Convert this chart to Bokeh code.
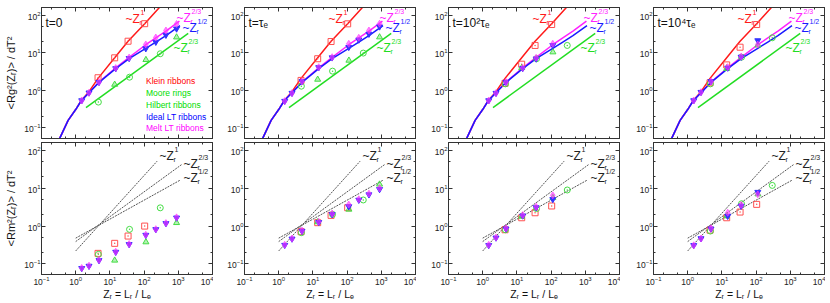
from bokeh.plotting import figure
from bokeh.models import Range1d, LogAxis, FixedTicker, Label, Legend, LegendItem
from bokeh.layouts import row, column
from bokeh.embed import file_html
from bokeh.resources import INLINE

FONT = "Liberation Sans"

# ---------------- data ----------------
TIME_LABELS = ["t=0", "t=τₑ", "t=10²τₑ", "t=10⁴τₑ"]
SERIES_NAMES = ["Klein ribbons", "Moore rings", "Hilbert ribbons", "Ideal LT ribbons", "Melt LT ribbons"]
X_TITLE = "Zᵣ = Lᵣ / Lₑ"
Y_TITLE_TOP = "<Rg²(Zᵣ)> / dT²"
Y_TITLE_BOT = "<Rm²(Zᵣ)> / dT²"

Z_KLEIN = [4.5, 13.8, 34, 104]
Z_MOORE = [4.6, 37.5, 297]
Z_HILBERT = [13.8, 113, 890]
Z_LT = [1.5, 2.45, 4.8, 14.8, 36.5, 112, 220, 435, 890]

# gyration radius (top row), one list per time
RG_KLEIN = [[2.18, 7.4, 20.5, 60], [1.85, 7.0, 20.1, 59.5], [1.55, 5.0, 15.8, 57], [1.6, 4.8, 14.2, 57]]
RG_MOORE = [[0.49, 2.26, 9.5], [1.3, 3.27, 9.9], [1.5, 7.0, 15.8], [1.5, 7.7, 25.3]]
RG_HILBERT = [[1.44, 6.56, 26.2], [1.96, 6.3, 26.3], [4.0, 10.5], [3.8, 16.0]]
RG_IDEAL = [[0.54, 0.87, 1.66, 3.85, 7.2, 13.1, 19.5, 30, 44],
            [0.52, 0.85, 1.74, 4.1, 7.5, 14.2, 22.4, 32, 50],
            [0.54, 0.85, 1.67, 3.9, 7.0, 16.0],
            [0.54, 0.90, 1.74, 4.0, 7.8, 21.4]]
RG_MELT = [[0.54, 0.87, 1.68, 3.95, 7.5, 16.8, 25.7, 39.5, 59],
           [0.52, 0.85, 1.74, 4.18, 7.7, 17.5, 25.3, 39.5, 60],
           [0.54, 0.85, 1.67, 4.0, 7.4, 17.5],
           [0.54, 0.90, 1.74, 4.18, 8.0, 16.7]]

# bottom row, one list per time
RM_KLEIN = [[0.19, 0.35, 0.545, 1.0], [0.71, 1.23, 1.92, 3.06], [0.80, 1.66, 2.25, 3.4], [0.78, 1.66, 2.35, 3.75]]
RM_MOORE = [[0.179, 0.82, 3.04], [0.67, 2.04, 4.9], [0.80, 2.9, 9.0], [0.74, 3.9, 11.9]]
RM_HILBERT = [[0.124, 0.378, 1.22], [1.28, 2.76, 12.7], [1.8, 5.6], [1.84, 7.0]]
RM_IDEAL = [[0.0766, 0.088, 0.124, 0.206, 0.329, 0.579, 0.818, 1.18, 1.66],
            [0.314, 0.46, 0.74, 1.26, 2.05, 3.3, 4.9, 6.8, 9.4],
            [0.31, 0.49, 0.85, 1.88, 3.1, 5.1],
            [0.31, 0.47, 0.85, 1.84, 3.4, 7.9]]
RM_MELT = [[0.078, 0.09, 0.127, 0.21, 0.335, 0.59, 0.83, 1.2, 1.7],
           [0.32, 0.47, 0.76, 1.3, 2.15, 3.7, 5.1, 7.2, 10.0],
           [0.32, 0.50, 0.87, 1.95, 3.25, 6.5],
           [0.31, 0.47, 0.87, 2.25, 3.6, 6.9]]

# model curves of the top row
CURVE_Z_KLEIN = [0.34, 0.6, 1.0, 1.47, 2.45, 4.5, 13.8, 34, 104, 280]
CURVE_RG_KLEIN = [0.053, 0.159, 0.31, 0.55, 0.93, 2.1, 7.4, 20.5, 60, 162]
CURVE_Z_MELT = [0.34, 0.6, 1.0, 1.47, 2.45, 4.8, 14.8, 36.5, 112, 220, 435, 1080]
CURVE_RG_MELT = [0.053, 0.159, 0.31, 0.54, 0.87, 1.68, 4.0, 7.6, 16.5, 25, 38, 70]
CURVE_Z_IDEAL = [0.34, 0.6, 1.0, 1.47, 2.45, 4.8, 14.8, 36.5, 112, 220, 435, 1120]
CURVE_RG_IDEAL = [0.053, 0.159, 0.31, 0.54, 0.87, 1.64, 3.8, 7.0, 13.2, 19.5, 29, 53]
REF_Z_MOORE = [2.0, 1950]
REF_RG_MOORE = [0.35, 33]

# dashed guide lines of the bottom row
GUIDE_Z_1 = [1.0, 240]
GUIDE_R_1 = [0.22, 52]
GUIDE_Z_23 = [1.0, 1240]
GUIDE_R_23 = [0.39, 42]
GUIDE_Z_12 = [1.0, 1150]
GUIDE_R_12 = [0.48, 16.5]

X_TICKS = [0.1, 1, 10, 100, 1000, 10000]
Y_TICKS = [0.1, 1, 10, 100]
X_MINOR = [0.2, 0.5, 2, 5, 20, 50, 200, 500, 2000, 5000]
Y_MINOR = [0.2, 0.5, 2, 5, 20, 50]

# ---------------- styling / layout ----------------
RED, GREEN, BLUE, MAGENTA = "#ff1a1a", "#22dd22", "#1a1aff", "#ff22ff"
FRAME_W = 171
COL_LEFT = [41, 31, 32, 33]
TOP_H, BOT_H = 131, 132
AX_COL = "#333333"


def style_axis(ax, ticks, minor, labels):
    ax.ticker = FixedTicker(ticks=ticks, minor_ticks=minor)
    ax.major_tick_in = 4
    ax.major_tick_out = 0
    ax.minor_tick_in = 2
    ax.minor_tick_out = 0
    ax.major_tick_line_color = AX_COL
    ax.minor_tick_line_color = AX_COL
    ax.axis_line_color = AX_COL
    ax.major_label_text_font = FONT
    ax.major_label_text_color = "#222222"
    if labels:
        ax.major_label_text_font_size = "8.5px"
        ax.major_label_standoff = 1
    else:
        ax.major_label_overrides = {t: "" for t in ticks}
        ax.major_label_text_font_size = "0px"
        ax.major_label_standoff = 0


def text_label(p, x, y, text, color, size, align="left"):
    p.add_layout(Label(x=x, y=y, x_units="screen", y_units="screen", text=text,
                       text_font=FONT, text_font_size=size, text_color=color,
                       text_baseline="middle", text_align=align))


def power_label(p, left, cy, fh, color, sup):
    y = fh - cy
    text_label(p, left, y, "~Z", color, "12px")
    text_label(p, left + 14, y - 4, "r", color, "7px")
    text_label(p, left + 15, y + 6, sup, color, "7px")


def draw_points(p, kl, mo, hi, idl, mel):
    p.scatter(Z_KLEIN[:len(kl)], kl, marker="square_dot", size=6, line_color="#ff5050",
              fill_color=None, line_width=1)
    p.scatter(Z_MOORE[:len(mo)], mo, marker="circle_dot", size=6, line_color="#44dd44",
              fill_color=None, line_width=1)
    p.scatter(Z_HILBERT[:len(hi)], hi, marker="triangle", size=6, line_color="#44dd44",
              fill_color="#44dd44", fill_alpha=0.4, line_width=1)
    p.scatter(Z_LT[:len(idl)], idl, marker="inverted_triangle", size=6, line_color="#3333ff",
              fill_color="#3333ff", line_width=1)
    p.scatter(Z_LT[:len(mel)], mel, marker="diamond", size=7, line_color="#ff33ff",
              fill_color="#ff33ff", fill_alpha=0.6, line_alpha=0.6)


def make_fig(col, top):
    fh = TOP_H if top else BOT_H
    bl = COL_LEFT[col]
    bt = 7 if top else 1
    bb = 3 if top else 28
    p = figure(width=bl + FRAME_W + 1, height=bt + fh + bb,
               x_axis_type="log", y_axis_type="log",
               x_range=Range1d(0.1, 1e4), y_range=Range1d(0.0525, 162),
               output_backend="svg", toolbar_location=None,
               min_border_left=bl, min_border_right=1, min_border_top=bt, min_border_bottom=bb)
    p.grid.visible = False
    p.outline_line_color = AX_COL
    p.background_fill_color = "white"
    p.border_fill_color = "white"
    xb = p.below[0]
    yl = p.left[0]
    style_axis(xb, X_TICKS, X_MINOR, not top)
    style_axis(yl, Y_TICKS, Y_MINOR, True)
    if not top:
        xb.axis_label = X_TITLE
        xb.axis_label_text_font = FONT
        xb.axis_label_text_font_size = "10.5px"
        xb.axis_label_text_font_style = "normal"
        xb.axis_label_text_color = "#111111"
        xb.axis_label_standoff = 0
    if col == 0:
        yl.axis_label = Y_TITLE_TOP if top else Y_TITLE_BOT
        yl.axis_label_text_font = FONT
        yl.axis_label_text_font_size = "11px"
        yl.axis_label_text_font_style = "normal"
        yl.axis_label_text_color = "#111111"
        yl.axis_label_standoff = 4
    ax_top = LogAxis()
    style_axis(ax_top, X_TICKS, X_MINOR, False)
    p.add_layout(ax_top, "above")
    ax_right = LogAxis()
    style_axis(ax_right, Y_TICKS, Y_MINOR, False)
    p.add_layout(ax_right, "right")
    return p, fh


top_figs, bot_figs = [], []
for c in range(4):
    # ---- top row ----
    p, fh = make_fig(c, True)
    p.line(CURVE_Z_KLEIN, CURVE_RG_KLEIN, line_color=RED, line_width=1.5)
    p.line(CURVE_Z_MELT, CURVE_RG_MELT, line_color=MAGENTA, line_width=1.5)
    p.line(CURVE_Z_IDEAL, CURVE_RG_IDEAL, line_color=BLUE, line_width=1.5)
    p.line(REF_Z_MOORE, REF_RG_MOORE, line_color=GREEN, line_width=1.5)
    draw_points(p, RG_KLEIN[c], RG_MOORE[c], RG_HILBERT[c], RG_IDEAL[c], RG_MELT[c])
    power_label(p, 84, 11, fh, RED, "1")
    power_label(p, 135, 10, fh, MAGENTA, "2/3")
    power_label(p, 141, 20, fh, BLUE, "1/2")
    power_label(p, 132, 40, fh, GREEN, "2/3")
    text_label(p, 4, fh - 15, TIME_LABELS[c], "#111111", "12px")
    if c == 0:
        leg_rows = [57, 45, 33, 21, 10]
        specs = [("square", "#ff0000"), ("circle", "#00dd00"), ("triangle", "#00dd00"),
                 ("inverted_triangle", "#0000ff"), ("diamond", "#ff00ff")]
        for name, (mk, colr), yc in zip(SERIES_NAMES, specs, leg_rows):
            r = p.scatter(x=[], y=[], marker=mk, size=6, fill_color=colr, line_color=colr)
            lg = Legend(items=[LegendItem(label=name, renderers=[r])], location=(91, yc - 7),
                        padding=0, margin=0, spacing=0, border_line_color=None,
                        background_fill_alpha=0, glyph_width=14, glyph_height=14,
                        label_standoff=-4, label_height=9, label_text_font=FONT,
                        label_text_font_size="8.5px", label_text_color=colr)
            p.add_layout(lg)
    top_figs.append(p)

    # ---- bottom row ----
    q, fh = make_fig(c, False)
    for gz, gr in ((GUIDE_Z_1, GUIDE_R_1), (GUIDE_Z_23, GUIDE_R_23), (GUIDE_Z_12, GUIDE_R_12)):
        q.line(gz, gr, line_color="#555555", line_width=1, line_dash="2 1")
    draw_points(q, RM_KLEIN[c], RM_MOORE[c], RM_HILBERT[c], RM_IDEAL[c], RM_MELT[c])
    power_label(q, 118, 13, fh, "#222222", "1")
    power_label(q, 142, 21, fh, "#222222", "2/3")
    power_label(q, 142, 35, fh, "#222222", "1/2")
    bot_figs.append(q)

layout = column(row(*top_figs), row(*bot_figs))
open("out.html", "w").write(file_html(layout, INLINE))
